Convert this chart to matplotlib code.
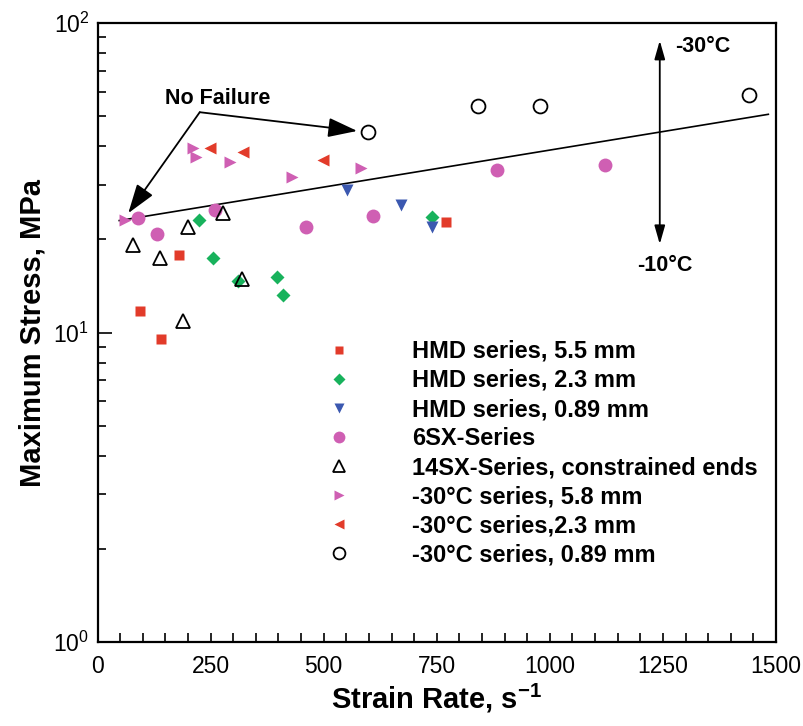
import numpy as np
import matplotlib
matplotlib.use('Agg')
import matplotlib.pyplot as plt
from matplotlib.ticker import MultipleLocator, LogLocator, NullFormatter

plt.rcParams['font.family'] = ['Liberation Sans', 'DejaVu Sans']
plt.rcParams['mathtext.fontset'] = 'custom'
plt.rcParams['mathtext.rm'] = 'Liberation Sans'
plt.rcParams['mathtext.bf'] = 'Liberation Sans:bold'

# data (strain rate 1/s, max stress MPa)
hmd55_x = [94, 140, 180, 770]
hmd55_y = [11.7, 9.55, 17.8, 22.8]

hmd23_x = [225, 255, 311, 396, 409, 740]
hmd23_y = [23.1, 17.4, 14.7, 15.1, 13.2, 23.7]

hmd089_x = [551, 672, 740]
hmd089_y = [28.9, 25.9, 22.0]

sx6_x = [90, 131, 260, 460, 610, 883, 1122]
sx6_y = [23.5, 20.8, 24.9, 22.0, 23.8, 33.5, 34.8]

sx14_x = [79, 138, 188, 199, 278, 319]
sx14_y = [19.2, 17.4, 10.9, 22.0, 24.3, 14.9]

c30_58_x = [61, 212, 218, 293, 429, 583]
c30_58_y = [23.1, 39.4, 36.8, 35.5, 31.9, 34.1]

c30_23_x = [249, 322, 499]
c30_23_y = [39.6, 38.4, 36.1]

c30_089_x = [597, 842, 978, 1441]
c30_089_y = [44.3, 53.9, 54.1, 58.5]

# fitted boundary line
fit_x = [48, 1483]
fit_y = [23.0, 50.7]

red = '#E23B2A'
green = '#18B25C'
blue = '#3B58B0'
pink = '#CF5FB3'

fig = plt.figure(figsize=(8.04, 7.26), dpi=100)
ax = fig.add_axes([0.1213, 0.1157, 0.8439, 0.8526])

ax.plot(fit_x, fit_y, color='k', lw=1.2, zorder=2)

ax.plot(hmd55_x, hmd55_y, 's', color=red, ms=7.5, mec='none', label='HMD series, 5.5 mm', zorder=3)
ax.plot(hmd23_x, hmd23_y, 'D', color=green, ms=7.5, mec='none', label='HMD series, 2.3 mm', zorder=3)
ax.plot(hmd089_x, hmd089_y, 'v', color=blue, ms=9, mec='none', label='HMD series, 0.89 mm', zorder=3)
ax.plot(sx6_x, sx6_y, 'o', color=pink, ms=10, mec='none', label='6SX-Series', zorder=3)
ax.plot(sx14_x, sx14_y, '^', mfc='none', mec='k', mew=1.3, ms=9.5, label='14SX-Series, constrained ends', zorder=3)
ax.plot(c30_58_x, c30_58_y, '>', color=pink, ms=9, mec='none', label='-30°C series, 5.8 mm', zorder=3)
ax.plot(c30_23_x, c30_23_y, '<', color=red, ms=9, mec='none', label='-30°C series,2.3 mm', zorder=3)
ax.plot(c30_089_x, c30_089_y, 'o', mfc='none', mec='k', mew=1.3, ms=10, label='-30°C series, 0.89 mm', zorder=3)

ax.set_yscale('log')
ax.set_xlim(0, 1500)
ax.set_ylim(1, 100)

ax.xaxis.set_major_locator(MultipleLocator(250))
ax.xaxis.set_minor_locator(MultipleLocator(50))
ax.yaxis.set_major_locator(LogLocator(base=10))
ax.yaxis.set_minor_locator(LogLocator(base=10, subs=np.arange(2, 10)))
ax.yaxis.set_minor_formatter(NullFormatter())

ax.tick_params(which='both', direction='in', top=False, right=False, labelsize=16.5)
ax.tick_params(axis='y', which='major', length=10, width=1.2, pad=6)
ax.tick_params(axis='y', which='minor', length=6, width=1.2)
ax.tick_params(axis='x', which='both', length=6.5, width=1.2, pad=9)
for s in ax.spines.values():
    s.set_linewidth(1.6)

ax.set_xlabel('Strain Rate, s$^{\\mathbf{-1}}$', fontsize=21, fontweight='bold', labelpad=3)
ax.set_ylabel('Maximum Stress, MPa', fontsize=21, fontweight='bold', labelpad=5)

# annotations
ax.annotate('', xy=(574, 44.8), xytext=(226, 51.5),
            arrowprops=dict(arrowstyle='-|>,head_length=0.9,head_width=0.3', mutation_scale=20,
                            color='k', lw=1.3, shrinkA=0, shrinkB=0))
ax.annotate('', xy=(68, 24.3), xytext=(226, 51.5),
            arrowprops=dict(arrowstyle='-|>,head_length=0.9,head_width=0.3', mutation_scale=20,
                            color='k', lw=1.3, shrinkA=0, shrinkB=0))
ax.text(266, 57.2, 'No Failure', fontsize=15.5, fontweight='bold', ha='center', va='center')

ax.annotate('', xy=(1243, 87.7), xytext=(1243, 19.3),
            arrowprops=dict(arrowstyle='<|-|>,head_length=0.7,head_width=0.2', mutation_scale=16,
                            color='k', lw=1.3, shrinkA=0, shrinkB=0))
ax.text(1277, 83.8, '-30°C', fontsize=15.5, fontweight='bold', ha='left', va='center')
ax.text(1255, 16.5, '-10°C', fontsize=15.5, fontweight='bold', ha='center', va='center')

leg = ax.legend(loc='upper left', bbox_to_anchor=(0.363, 0.532), bbox_transform=fig.transFigure,
                frameon=False, fontsize=17, markerscale=0.85, handlelength=4, handletextpad=1.1,
                labelspacing=0.26, borderpad=0, borderaxespad=0)
for t in leg.get_texts():
    t.set_fontweight('bold')

fig.savefig('out.png', dpi=100)
